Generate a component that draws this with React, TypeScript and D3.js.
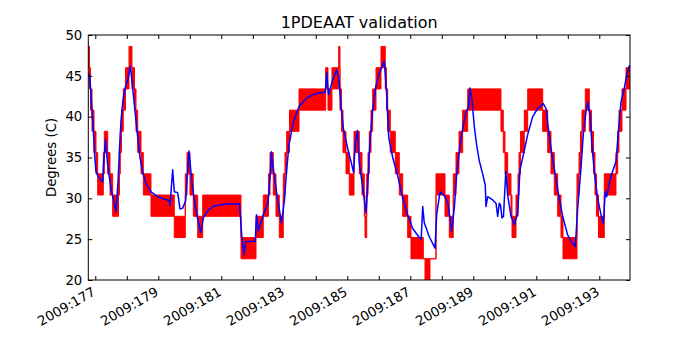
import { useEffect, useRef } from "react";
import * as d3 from "d3";

// day-of-year axis
const X_DOMAIN = [176.778, 193.975];
const Y_DOMAIN = [20, 50];
const TICK_DAYS = [177, 178, 179, 180, 181, 182, 183, 184, 185, 186, 187, 188, 189, 190, 191, 192, 193];
const LABEL_DAYS = [177, 179, 181, 183, 185, 187, 189, 191, 193];
const Y_TICKS = [20, 25, 30, 35, 40, 45, 50];

// telemetry (red): quantized reading, toggling between two levels from each time on
const RED_T = [
  176.778, 176.816, 176.848, 176.895, 176.959, 177.022, 177.076, 177.254, 177.286, 177.394,
  177.467, 177.552, 177.737, 177.768, 177.794, 177.832, 177.889, 177.959, 178.07, 178.165,
  178.244, 178.292, 178.346, 178.451, 178.524, 178.768, 179.508, 179.857, 179.911, 180.006,
  180.111, 180.251, 180.41, 181.625, 182.102, 182.333, 182.498, 182.546, 182.651, 182.737,
  182.841, 182.968, 183.022, 183.076, 183.165, 183.467, 184.314, 184.387, 184.514, 184.727,
  184.768, 184.816, 184.863, 184.959, 185.063, 185.213, 185.381, 185.467, 185.54, 185.562,
  185.616, 185.657, 185.698, 185.752, 185.806, 185.911, 186.07, 186.206, 186.244, 186.283,
  186.365, 186.524, 186.651, 186.759, 186.917, 187.022, 187.413, 187.467, 187.625, 187.816,
  188.102, 188.238, 188.365, 188.451, 188.546, 188.663, 188.822, 189.879, 189.952, 190.006,
  190.092, 190.197, 190.229, 190.356, 190.419, 190.451, 190.498, 190.619, 190.727, 191.203,
  191.362, 191.467, 191.571, 191.679, 191.784, 191.848, 192.292, 192.356, 192.403, 192.451,
  192.556, 192.683, 192.752, 192.816, 192.863, 192.911, 192.975, 193.159, 193.53, 193.584,
  193.625, 193.721, 193.848, 193.975,
];
const RED_LO = [
  46.0, 43.4, 40.8, 38.2, 35.6, 33.0, 30.4, 33.0, 35.6, 33.0,
  30.4, 27.8, 30.4, 33.0, 35.6, 38.2, 40.8, 43.4, 46.0, 43.4,
  40.8, 38.2, 35.6, 33.0, 30.4, 27.8, 25.2, 30.4, 33.0, 30.4,
  27.8, 25.2, 27.8, 22.6, 25.2, 27.8, 30.4, 33.0, 30.4, 27.8,
  25.2, 30.4, 33.0, 35.6, 38.2, 40.8, 43.4, 40.8, 43.4, 46.0,
  40.8, 38.2, 35.6, 33.0, 30.4, 35.6, 33.0, 30.4, 27.8, 25.2,
  30.4, 33.0, 35.6, 38.2, 40.8, 43.4, 46.0, 43.4, 40.8, 38.2,
  35.6, 33.0, 30.4, 27.8, 25.2, 22.6, 22.6, 20.0, 22.6, 30.4,
  27.8, 25.2, 30.4, 33.0, 35.6, 38.2, 40.8, 38.2, 35.6, 33.0,
  30.4, 27.8, 25.2, 27.8, 30.4, 33.0, 35.6, 38.2, 40.8, 38.2,
  35.6, 33.0, 30.4, 27.8, 25.2, 22.6, 30.4, 33.0, 35.6, 38.2,
  40.8, 38.2, 35.6, 33.0, 30.4, 27.8, 25.2, 30.4, 33.0, 35.6,
  38.2, 40.8, 43.4, 43.4,
];
const RED_HI = [
  48.6, 46.0, 43.4, 40.8, 38.2, 35.6, 33.0, 35.6, 38.2, 35.6,
  33.0, 30.4, 33.0, 35.6, 38.2, 40.8, 43.4, 46.0, 48.6, 46.0,
  43.4, 40.8, 38.2, 35.6, 33.0, 30.4, 27.8, 33.0, 35.6, 33.0,
  30.4, 27.8, 30.4, 25.2, 27.8, 30.4, 33.0, 35.6, 33.0, 30.4,
  27.8, 33.0, 35.6, 38.2, 40.8, 43.4, 46.0, 43.4, 46.0, 48.6,
  43.4, 40.8, 38.2, 35.6, 33.0, 38.2, 35.6, 33.0, 30.4, 27.8,
  33.0, 35.6, 38.2, 40.8, 43.4, 46.0, 48.6, 46.0, 43.4, 40.8,
  38.2, 35.6, 33.0, 30.4, 27.8, 25.2, 22.6, 22.6, 22.6, 33.0,
  30.4, 27.8, 33.0, 35.6, 38.2, 40.8, 43.4, 40.8, 38.2, 35.6,
  33.0, 30.4, 27.8, 30.4, 33.0, 35.6, 38.2, 40.8, 43.4, 40.8,
  38.2, 35.6, 33.0, 30.4, 27.8, 25.2, 33.0, 35.6, 38.2, 40.8,
  43.4, 40.8, 38.2, 35.6, 33.0, 30.4, 27.8, 33.0, 35.6, 38.2,
  40.8, 43.4, 46.0, 46.0,
];

// model (blue)
const BLUE_T = [
  176.784, 176.832, 176.886, 176.937, 176.975, 177.022, 177.086, 177.235, 177.26, 177.324,
  177.394, 177.498, 177.578, 177.657, 177.721, 177.768, 177.816, 177.879, 177.959, 178.038,
  178.111, 178.187, 178.27, 178.346, 178.419, 178.505, 178.61, 178.768, 178.981, 179.19,
  179.349, 179.371, 179.457, 179.508, 179.616, 179.689, 179.775, 179.87, 179.975, 180.06,
  180.165, 180.27, 180.346, 180.429, 180.587, 180.8, 181.171, 181.578, 181.648, 181.721,
  181.781, 182.079, 182.117, 182.181, 182.333, 182.483, 182.546, 182.594, 182.657, 182.768,
  182.857, 182.911, 183.006, 183.076, 183.149, 183.267, 183.371, 183.476, 183.689, 183.902,
  184.111, 184.302, 184.346, 184.403, 184.537, 184.663, 184.721, 184.8, 184.873, 185.013,
  185.149, 185.197, 185.26, 185.324, 185.381, 185.467, 185.594, 185.648, 185.721, 185.806,
  185.911, 186.016, 186.175, 186.251, 186.314, 186.441, 186.6, 186.759, 186.917, 187.076,
  187.286, 187.346, 187.394, 187.444, 187.603, 187.784, 187.838, 187.943, 188.07, 188.197,
  188.314, 188.397, 188.473, 188.578, 188.683, 188.79, 188.854, 188.895, 188.959, 189.032,
  189.108, 189.19, 189.298, 189.381, 189.403, 189.457, 189.616, 189.721, 189.775, 189.825,
  189.863, 189.911, 189.959, 190.032, 190.092, 190.197, 190.302, 190.41, 190.483, 190.587,
  190.727, 190.886, 191.044, 191.222, 191.308, 191.394, 191.498, 191.603, 191.711, 191.838,
  191.997, 192.156, 192.238, 192.314, 192.419, 192.492, 192.578, 192.632, 192.705, 192.768,
  192.841, 192.949, 193.054, 193.127, 193.19, 193.235, 193.298, 193.371, 193.53, 193.616,
  193.689, 193.794, 193.87, 193.959,
];
const BLUE_V = [
  45.4, 44.6, 41.2, 38.4, 35.5, 33.3, 32.7, 32.0, 34.0, 37.2,
  34.1, 31.2, 29.8, 28.4, 32.0, 36.0, 39.5, 42.0, 43.7, 44.6,
  46.2, 43.5, 40.3, 37.5, 35.0, 33.2, 31.8, 30.8, 30.2, 29.9,
  29.7, 29.1, 33.5, 30.8, 30.7, 28.7, 28.8, 29.7, 35.8, 32.2,
  29.2, 27.1, 25.8, 27.6, 28.6, 29.1, 29.3, 29.3, 25.5, 23.1,
  24.7, 24.75, 28.0, 26.0, 28.0, 29.5, 32.5, 35.7, 33.5, 30.4,
  28.3, 27.0, 29.8, 33.5, 36.5, 39.0, 40.3, 41.3, 42.2, 42.7,
  42.9, 43.0, 45.4, 42.7, 44.5, 45.7, 45.0, 41.4, 38.6, 36.1,
  34.0, 33.2, 37.0, 38.3, 34.3, 32.0, 28.2, 31.5, 37.0, 40.8,
  43.8, 45.3, 46.8, 42.7, 37.5, 35.0, 32.8, 30.0, 28.0, 26.3,
  25.2, 25.0, 29.0, 27.0, 25.3, 23.9, 28.0, 30.8, 30.4, 29.4,
  26.0, 28.8, 32.9, 36.5, 39.0, 40.8, 41.2, 43.5, 42.0, 38.8,
  36.5, 34.6, 33.0, 31.6, 29.0, 30.2, 29.8, 29.4, 27.8, 29.4,
  29.2, 27.6, 27.8, 33.3, 30.4, 27.8, 26.8, 28.2, 33.5, 35.3,
  37.8, 40.0, 41.0, 41.6, 41.0, 38.2, 35.3, 32.9, 30.4, 27.8,
  25.5, 24.5, 24.1, 28.8, 33.7, 37.8, 40.6, 41.8, 40.2, 36.5,
  33.3, 30.0, 28.0, 26.9, 30.8, 30.2, 31.4, 32.7, 34.5, 38.6,
  41.8, 43.5, 45.1, 46.3,
];

const W = 700;
const H = 350;
const M = { l: 88.3, r: 630, t: 35, b: 280 };
const FONT = "DejaVu Sans";

const App = () => {
  const svgRef = useRef(null);

  useEffect(() => {
    const svg = d3.select(svgRef.current);
    svg.selectAll("*").remove();

    const x = d3.scaleLinear().domain(X_DOMAIN).range([M.l, M.r]);
    const y = d3.scaleLinear().domain(Y_DOMAIN).range([M.b, M.t]);

    svg
      .append("clipPath")
      .attr("id", "plot-clip")
      .append("rect")
      .attr("x", M.l)
      .attr("y", M.t)
      .attr("width", M.r - M.l)
      .attr("height", M.b - M.t);

    const plot = svg.append("g").attr("clip-path", "url(#plot-clip)");

    // red telemetry band
    const red = RED_T.map((t, i) => ({ t, lo: RED_LO[i], hi: RED_HI[i] }));
    const area = d3
      .area()
      .curve(d3.curveStepAfter)
      .x((d) => x(d.t))
      .y0((d) => y(d.lo))
      .y1((d) => y(d.hi));
    plot
      .append("path")
      .attr("d", area(red))
      .attr("fill", "#ff0000")
      .attr("stroke", "#ff0000")
      .attr("stroke-width", 1);

    // blue model line
    const blue = BLUE_T.map((t, i) => ({ t, v: BLUE_V[i] }));
    const line = d3
      .line()
      .x((d) => x(d.t))
      .y((d) => y(d.v));
    plot
      .append("path")
      .attr("d", line(blue))
      .attr("fill", "none")
      .attr("stroke", "#0000ff")
      .attr("stroke-width", 1.5)
      .attr("stroke-linejoin", "round");

    // ticks, inward on all four sides
    const bottom = svg
      .append("g")
      .attr("transform", `translate(0,${M.b})`)
      .call(d3.axisBottom(x).tickValues(TICK_DAYS).tickSize(-4).tickFormat(() => ""));
    const top = svg
      .append("g")
      .attr("transform", `translate(0,${M.t})`)
      .call(d3.axisTop(x).tickValues(TICK_DAYS).tickSize(-4).tickFormat(() => ""));
    const left = svg
      .append("g")
      .attr("transform", `translate(${M.l},0)`)
      .call(d3.axisLeft(y).tickValues(Y_TICKS).tickSize(-4).tickPadding(6));
    const right = svg
      .append("g")
      .attr("transform", `translate(${M.r},0)`)
      .call(d3.axisRight(y).tickValues(Y_TICKS).tickSize(-4).tickFormat(() => ""));
    [bottom, top, left, right].forEach((g) => {
      g.select(".domain").remove();
      g.selectAll("line").attr("stroke", "#000");
    });
    left
      .selectAll("text")
      .attr("font-family", FONT)
      .attr("font-size", 13.3)
      .attr("fill", "#000");

    // rotated date labels
    svg
      .append("g")
      .selectAll("text")
      .data(LABEL_DAYS)
      .join("text")
      .attr("transform", (d) => `translate(${x(d) + 1},${M.b + 14.5}) rotate(-30)`)
      .attr("text-anchor", "end")
      .attr("font-family", FONT)
      .attr("font-size", 13.3)
      .attr("fill", "#000")
      .text((d) => `2009:${d}`);

    // frame
    svg
      .append("rect")
      .attr("x", M.l)
      .attr("y", M.t)
      .attr("width", M.r - M.l)
      .attr("height", M.b - M.t)
      .attr("fill", "none")
      .attr("stroke", "#000")
      .attr("stroke-width", 1);

    svg
      .append("text")
      .attr("x", (M.l + M.r) / 2)
      .attr("y", 28)
      .attr("text-anchor", "middle")
      .attr("font-family", FONT)
      .attr("font-size", 16)
      .attr("fill", "#000")
      .text("1PDEAAT validation");

    svg
      .append("text")
      .attr("transform", `translate(56,${(M.t + M.b) / 2}) rotate(-90)`)
      .attr("text-anchor", "middle")
      .attr("font-family", FONT)
      .attr("font-size", 13.3)
      .attr("fill", "#000")
      .text("Degrees (C)");
  }, []);

  return (
    <svg
      ref={svgRef}
      width={W}
      height={H}
      style={{ position: "absolute", left: 0, top: 0, background: "#fff" }}
    ></svg>
  );
};

export default App;
